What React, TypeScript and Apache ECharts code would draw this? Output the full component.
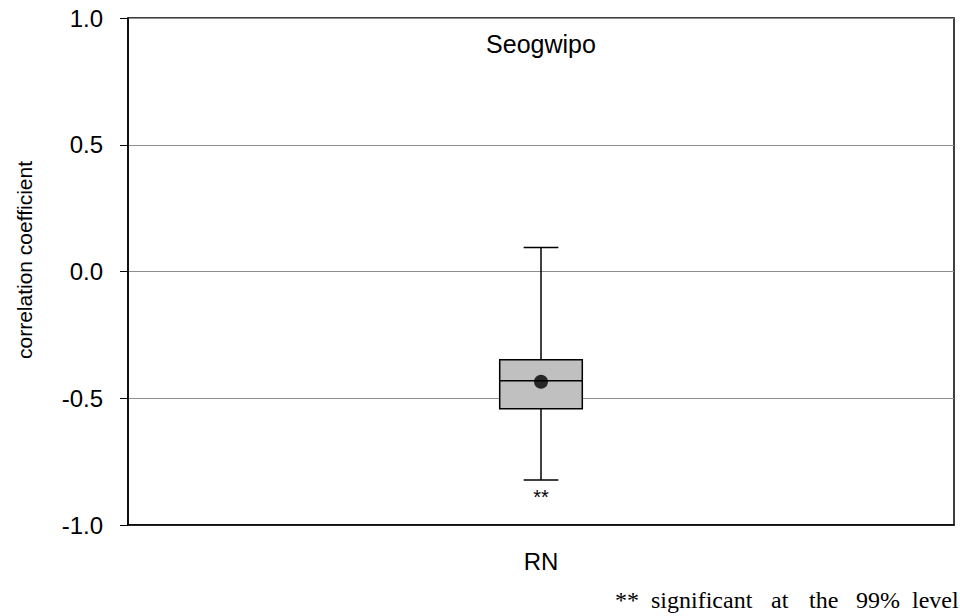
import React, { useEffect, useRef } from "react";
import * as echarts from "echarts";

// Correlation coefficients of RN at Seogwipo
const categories = ["RN"];
// [lower whisker, Q1, median, Q3, upper whisker]
const boxStats = [[-0.822, -0.541, -0.431, -0.348, 0.095]];
const means = [-0.435];
const significance = ["**"];
const yTicks = { min: -1, max: 1, interval: 0.5 };
const footnoteWords = ["**", "significant", "at", "the", "99%", "level"];
const footnoteX = [615, 651, 771, 809, 856, 912];

export default function App() {
  const ref = useRef<HTMLDivElement>(null);

  useEffect(() => {
    if (!ref.current) return;
    const chart = echarts.init(ref.current, null, { renderer: "svg" });
    const font = "'Liberation Sans', Arial, sans-serif";
    const serif = "'Liberation Serif', 'DejaVu Serif', serif";

    chart.setOption({
      animation: false,
      backgroundColor: "#ffffff",
      grid: {
        left: 128,
        right: 6,
        top: 18,
        bottom: 91,
        show: true,
        borderColor: "#000",
        borderWidth: 1.5,
      },
      title: {
        text: "Seogwipo",
        left: 541,
        top: 31,
        padding: 0,
        textAlign: "center",
        textStyle: { fontFamily: font, fontSize: 25, fontWeight: "normal", color: "#000" },
      },
      xAxis: {
        type: "category",
        data: categories,
        axisLine: { onZero: false, lineStyle: { color: "#000", width: 1.5 } },
        axisTick: { alignWithLabel: true, length: 8, lineStyle: { color: "#000", width: 1 } },
        axisLabel: { fontFamily: font, fontSize: 24, color: "#000", margin: 24 },
        splitLine: { show: false },
      },
      yAxis: {
        type: "value",
        min: yTicks.min,
        max: yTicks.max,
        interval: yTicks.interval,
        axisLine: { show: true, lineStyle: { color: "#000", width: 1.5 } },
        axisTick: { show: true, length: 8, lineStyle: { color: "#000", width: 1 } },
        axisLabel: {
          fontFamily: font,
          fontSize: 24,
          color: "#000",
          margin: 25,
          formatter: (v: number) => v.toFixed(1),
        },
        splitLine: { show: true, lineStyle: { color: "#8c8c8c", width: 1 } },
      },
      series: [
        {
          type: "custom",
          data: boxStats.map((s, i) => [i, ...s]),
          renderItem: (params: any, api: any) => {
            const idx = api.value(0);
            const lo = api.coord([idx, api.value(1)]);
            const q1 = api.coord([idx, api.value(2)]);
            const med = api.coord([idx, api.value(3)]);
            const q3 = api.coord([idx, api.value(4)]);
            const hi = api.coord([idx, api.value(5)]);
            const band = api.size([1, 0])[0];
            const boxHalf = band * 0.05;
            const capHalf = band * 0.021;
            const x = lo[0];
            const line = { stroke: "#000", lineWidth: 1.5 };
            const sig = significance[params.dataIndex] || "";
            return {
              type: "group",
              children: [
                { type: "line", shape: { x1: x, y1: hi[1], x2: x, y2: q3[1] }, style: line },
                { type: "line", shape: { x1: x, y1: q1[1], x2: x, y2: lo[1] }, style: line },
                { type: "line", shape: { x1: x - capHalf, y1: hi[1], x2: x + capHalf, y2: hi[1] }, style: line },
                { type: "line", shape: { x1: x - capHalf, y1: lo[1], x2: x + capHalf, y2: lo[1] }, style: line },
                {
                  type: "rect",
                  shape: { x: x - boxHalf, y: q3[1], width: boxHalf * 2, height: q1[1] - q3[1] },
                  style: { fill: "#c0c0c0", stroke: "#000", lineWidth: 1.5 },
                },
                { type: "line", shape: { x1: x - boxHalf, y1: med[1], x2: x + boxHalf, y2: med[1] }, style: line },
                {
                  type: "text",
                  x: x,
                  y: lo[1] + 7,
                  style: {
                    text: sig,
                    fontFamily: font,
                    fontSize: 20,
                    fill: "#000",
                    align: "center",
                    verticalAlign: "top",
                  },
                },
              ],
            };
          },
          z: 2,
        },
        {
          type: "scatter",
          data: means.map((m, i) => [i, m]),
          symbol: "circle",
          symbolSize: 14,
          itemStyle: { color: "#000" },
          z: 3,
        },
      ],
      graphic: [
        {
          type: "text",
          x: 24,
          y: 260,
          rotation: Math.PI / 2,
          style: {
            text: "correlation coefficient",
            fontFamily: font,
            fontSize: 21,
            fill: "#000",
            align: "center",
            verticalAlign: "middle",
          },
        },
        ...footnoteWords.map((w, i) => ({
          type: "text",
          x: footnoteX[i],
          y: 600,
          style: {
            text: w,
            fontFamily: serif,
            fontSize: 24,
            fill: "#000",
            align: "left",
            verticalAlign: "middle",
          },
        })),
      ],
    });

    return () => chart.dispose();
  }, []);

  return (
    <div
      ref={ref}
      style={{ position: "fixed", left: 0, top: 0, width: 960, height: 616 }}
    />
  );
}
